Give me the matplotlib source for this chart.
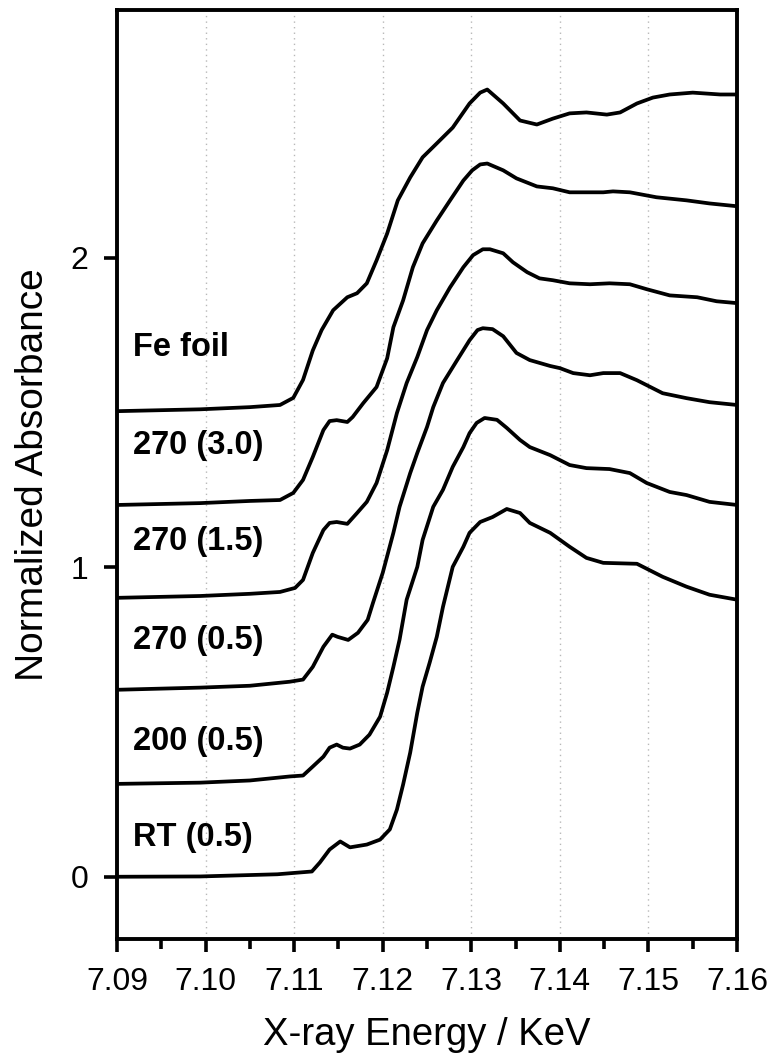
import matplotlib
matplotlib.use("Agg")
import matplotlib.pyplot as plt
from matplotlib.ticker import MultipleLocator

plt.rcParams['font.family'] = ['Liberation Sans', 'DejaVu Sans']

# Normalized XANES spectra (without vertical offset)
# Energy in keV
fe_foil_e = [7.0900, 7.0994, 7.1050, 7.1084, 7.1099, 7.1110, 7.1121, 7.1131, 7.1144, 7.1160,
             7.1171, 7.1182, 7.1193, 7.1205, 7.1217, 7.1231, 7.1245, 7.1261, 7.1279, 7.1298,
             7.1310, 7.1318, 7.1336, 7.1355, 7.1374, 7.1392, 7.1411, 7.1430, 7.1453, 7.1468,
             7.1487, 7.1505, 7.1524, 7.1550, 7.1581, 7.1600]
fe_foil_a = [0.004, 0.010, 0.017, 0.024, 0.047, 0.105, 0.200, 0.266, 0.330, 0.372,
             0.385, 0.417, 0.491, 0.578, 0.685, 0.759, 0.824, 0.869, 0.920, 0.998,
             1.033, 1.043, 0.998, 0.943, 0.930, 0.949, 0.966, 0.969, 0.962, 0.969,
             0.998, 1.017, 1.027, 1.033, 1.027, 1.027]

s270_30_e = [7.0900, 7.0994, 7.1050, 7.1084, 7.1099, 7.1110, 7.1121, 7.1133, 7.1140, 7.1148,
             7.1160, 7.1166, 7.1178, 7.1193, 7.1205, 7.1212, 7.1223, 7.1234, 7.1245, 7.1261,
             7.1276, 7.1291, 7.1301, 7.1310, 7.1318, 7.1336, 7.1351, 7.1374, 7.1392, 7.1411,
             7.1449, 7.1460, 7.1479, 7.1509, 7.1543, 7.1569, 7.1600]
s270_30_a = [0.001, 0.007, 0.014, 0.017, 0.040, 0.082, 0.156, 0.243, 0.272, 0.275,
             0.269, 0.285, 0.330, 0.382, 0.475, 0.575, 0.662, 0.769, 0.846, 0.920,
             0.985, 1.049, 1.082, 1.101, 1.104, 1.082, 1.056, 1.030, 1.024, 1.011,
             1.011, 1.014, 1.011, 0.995, 0.985, 0.975, 0.966]

s270_15_e = [7.0900, 7.0994, 7.1050, 7.1084, 7.1101, 7.1110, 7.1121, 7.1133, 7.1140, 7.1148,
             7.1160, 7.1171, 7.1182, 7.1193, 7.1205, 7.1216, 7.1227, 7.1239, 7.1250, 7.1261,
             7.1276, 7.1291, 7.1302, 7.1313, 7.1321, 7.1336, 7.1347, 7.1363, 7.1377, 7.1392,
             7.1411, 7.1434, 7.1456, 7.1479, 7.1498, 7.1524, 7.1555, 7.1577, 7.1600]
s270_15_a = [0.001, 0.007, 0.014, 0.020, 0.033, 0.059, 0.146, 0.220, 0.243, 0.246,
             0.240, 0.275, 0.311, 0.372, 0.478, 0.598, 0.695, 0.779, 0.866, 0.930,
             1.004, 1.069, 1.108, 1.127, 1.127, 1.114, 1.085, 1.053, 1.033, 1.027,
             1.017, 1.014, 1.017, 1.014, 0.998, 0.978, 0.972, 0.959, 0.953]

s270_05_e = [7.0900, 7.0994, 7.1050, 7.1095, 7.1110, 7.1121, 7.1133, 7.1143, 7.1149, 7.1161,
             7.1172, 7.1183, 7.1189, 7.1200, 7.1212, 7.1219, 7.1231, 7.1239, 7.1250, 7.1257,
             7.1268, 7.1284, 7.1298, 7.1307, 7.1313, 7.1324, 7.1336, 7.1351, 7.1366, 7.1389,
             7.1400, 7.1415, 7.1434, 7.1449, 7.1468, 7.1487, 7.1516, 7.1543, 7.1569, 7.1600]
s270_05_a = [0.004, 0.011, 0.017, 0.030, 0.037, 0.078, 0.143, 0.182, 0.175, 0.165,
             0.188, 0.230, 0.285, 0.382, 0.511, 0.595, 0.704, 0.769, 0.853, 0.917,
             0.995, 1.069, 1.133, 1.166, 1.172, 1.169, 1.146, 1.092, 1.069, 1.050,
             1.043, 1.027, 1.020, 1.027, 1.027, 1.004, 0.962, 0.946, 0.933, 0.924]

s200_05_e = [7.0900, 7.0994, 7.1050, 7.1095, 7.1110, 7.1121, 7.1133, 7.1140, 7.1148, 7.1155,
             7.1163, 7.1174, 7.1185, 7.1197, 7.1205, 7.1212, 7.1219, 7.1227, 7.1239, 7.1245,
             7.1257, 7.1268, 7.1279, 7.1291, 7.1298, 7.1306, 7.1315, 7.1329, 7.1340, 7.1355,
             7.1366, 7.1389, 7.1411, 7.1430, 7.1456, 7.1479, 7.1498, 7.1524, 7.1543, 7.1569,
             7.1600]
s200_05_a = [0.000, 0.004, 0.011, 0.024, 0.027, 0.056, 0.088, 0.117, 0.127, 0.117,
             0.114, 0.127, 0.159, 0.217, 0.295, 0.378, 0.466, 0.595, 0.701, 0.788,
             0.895, 0.950, 1.024, 1.088, 1.133, 1.166, 1.182, 1.176, 1.150, 1.111,
             1.088, 1.062, 1.030, 1.020, 1.017, 1.004, 0.972, 0.943, 0.933, 0.911,
             0.901]

rt_05_e = [7.0900, 7.0994, 7.1081, 7.1120, 7.1129, 7.1140, 7.1152, 7.1163, 7.1182, 7.1197,
           7.1208, 7.1216, 7.1223, 7.1231, 7.1239, 7.1245, 7.1253, 7.1261, 7.1268, 7.1279,
           7.1291, 7.1298, 7.1310, 7.1324, 7.1340, 7.1355, 7.1366, 7.1389, 7.1411, 7.1430,
           7.1449, 7.1487, 7.1516, 7.1543, 7.1569, 7.1600]
rt_05_a = [0.000, 0.001, 0.008, 0.017, 0.046, 0.088, 0.114, 0.095, 0.104, 0.120,
           0.153, 0.217, 0.298, 0.401, 0.530, 0.614, 0.692, 0.775, 0.872, 1.001,
           1.066, 1.111, 1.146, 1.162, 1.188, 1.175, 1.143, 1.111, 1.066, 1.030,
           1.014, 1.011, 0.969, 0.937, 0.911, 0.895]

labels = ["Fe foil", "270 (3.0)", "270 (1.5)", "270 (0.5)", "200 (0.5)", "RT (0.5)"]
offsets = [1.5, 1.2, 0.9, 0.6, 0.3, 0.0]
label_y = [1.71, 1.394, 1.083, 0.762, 0.437, 0.128]

spectra = [(fe_foil_e, fe_foil_a), (s270_30_e, s270_30_a), (s270_15_e, s270_15_a),
           (s270_05_e, s270_05_a), (s200_05_e, s200_05_a), (rt_05_e, rt_05_a)]

fig = plt.figure(figsize=(7.72, 10.61), dpi=100)
ax = fig.add_axes([0.1516, 0.1153, 0.8031, 0.8753])

# stacked spectra, each shifted up by its offset
for (energy, absorb), off, lab, ly in zip(spectra, offsets, labels, label_y):
    ax.plot(energy, [a + off for a in absorb], color='black', lw=2.7,
            solid_joinstyle='round', solid_capstyle='round')
    ax.text(7.0918, ly, lab, fontsize=23.5, fontweight='bold', ha='left', va='center')

ax.set_xlim(7.09, 7.16)
ax.set_ylim(-0.2, 2.8)
ax.xaxis.set_major_locator(MultipleLocator(0.01))
ax.xaxis.set_minor_locator(MultipleLocator(0.005))
ax.set_yticks([0, 1, 2])
ax.xaxis.set_major_formatter(matplotlib.ticker.FormatStrFormatter('%.2f'))

ax.grid(axis='x', which='major', linestyle=(0, (1, 3)), color='#b8b8b8', lw=1.0)

for sp in ax.spines.values():
    sp.set_linewidth(2.8)

ax.tick_params(axis='both', which='major', direction='out', length=9.5, width=2.6,
               labelsize=23, pad=11)
ax.tick_params(axis='x', which='minor', direction='out', length=7, width=2.6)

ax.set_xlabel("X-ray Energy / KeV", fontsize=27.5, labelpad=14)
ax.set_ylabel("Normalized Absorbance", fontsize=28, labelpad=14)

fig.savefig("out.png", dpi=100)
